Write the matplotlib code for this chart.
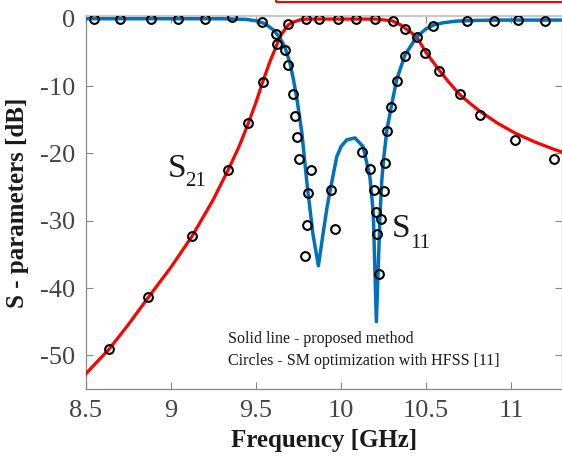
import matplotlib
matplotlib.use("Agg")
import matplotlib.pyplot as plt
from matplotlib.patches import Rectangle

# ---- data ----
s11_f = [8.50, 9.30, 9.44, 9.50, 9.55, 9.60, 9.64, 9.67, 9.70, 9.72, 9.74, 9.77, 9.80,
         9.835, 9.867, 9.894, 9.918, 9.94, 9.975, 10.00, 10.033, 10.082, 10.13, 10.17,
         10.19, 10.208, 10.23, 10.24, 10.25, 10.27, 10.30, 10.327, 10.376, 10.445, 10.50,
         10.543, 10.60, 10.68, 10.80, 10.92, 11.30]
s11_db = [0.0, 0.0, -0.1, -0.3, -0.7, -1.6, -2.8, -4.2, -6.6, -9.0, -11.8, -17.0, -24.5,
          -32.0, -36.7, -32.0, -28.0, -25.0, -20.5, -19.0, -18.0, -17.7, -19.0, -23.5,
          -28.9, -45.0, -28.9, -24.0, -21.0, -16.5, -12.5, -9.1, -5.4, -2.7, -1.5,
          -0.95, -0.6, -0.35, -0.25, -0.2, -0.2]

s21_f = [8.50, 8.635, 8.75, 8.866, 9.00, 9.124, 9.25, 9.337, 9.40, 9.455, 9.50, 9.539,
         9.58, 9.625, 9.65, 9.69, 9.72, 9.76, 9.80, 10.20, 10.30, 10.35, 10.376, 10.41,
         10.445, 10.50, 10.576, 10.64, 10.70, 10.76, 10.82, 10.92, 11.025, 11.14, 11.253, 11.30]
s21_db = [-52.7, -49.1, -45.4, -41.4, -36.9, -32.3, -26.8, -22.4, -19.0, -15.5, -12.4, -9.4,
          -6.5, -3.7, -2.3, -0.9, -0.5, -0.15, -0.05, -0.05, -0.3, -0.9, -1.4, -2.0,
          -2.7, -5.0, -7.6, -9.6, -11.3, -12.6, -13.8, -15.5, -17.0, -18.3, -19.4, -19.8]

s11_hfss_f = [8.549, 8.70, 8.88, 9.043, 9.198, 9.359, 9.533, 9.618, 9.669, 9.69, 9.72, 9.729,
              9.743, 9.751, 9.822, 9.804, 9.80, 9.788, 9.94, 9.965, 10.125, 10.17, 10.194,
              10.253, 10.204, 10.233, 10.21, 10.224, 10.259, 10.269, 10.294, 10.327, 10.376,
              10.445, 10.54, 10.74, 10.90, 11.04, 11.20]
s11_hfss_db = [0.0, 0.0, -0.1, -0.1, -0.1, 0.2, -0.54, -2.2, -4.6, -6.8, -11.2, -14.5,
               -17.6, -20.8, -22.5, -25.9, -30.7, -35.3, -25.5, -31.3, -19.85, -22.3, -25.5,
               -25.6, -28.7, -29.7, -32.0, -37.9, -21.5, -16.7, -13.1, -9.2, -5.6,
               -2.67, -1.08, -0.34, -0.34, -0.24, -0.34]

s21_hfss_f = [8.635, 8.866, 9.124, 9.337, 9.455, 9.539, 9.625, 9.69, 9.792, 9.872, 9.98,
              10.088, 10.198, 10.304, 10.376, 10.496, 10.576, 10.698, 10.82, 11.025, 11.253]
s21_hfss_db = [-49.1, -41.4, -32.3, -22.4, -15.5, -9.4, -3.8, -0.83, -0.1, -0.1, 0.0,
               -0.1, -0.1, -0.34, -1.53, -5.1, -7.8, -11.2, -14.3, -18.0, -20.8]

x_ticks = [8.5, 9, 9.5, 10, 10.5, 11]
x_tick_labels = ["8.5", "9", "9.5", "10", "10.5", "11"]
y_ticks = [0, -10, -20, -30, -40, -50]
y_tick_labels = ["0", "-10", "-20", "-30", "-40", "-50"]

FONT = "Liberation Serif"
W, H = 562, 457
fig = plt.figure(figsize=(W / 100, H / 100), dpi=100)
ax = fig.add_axes([86 / W, (H - 389) / H, (562 - 86) / W, (389 - 15.7) / H])

ax.plot(s21_f, s21_db, color="#ff0000", lw=2.3, zorder=3)
ax.plot(s11_f, s11_db, color="#0072bd", lw=2.5, zorder=3)
ax.plot(s11_hfss_f, s11_hfss_db, ls="none", marker="o", ms=6.3, mfc="none", mec="black", mew=1.5, zorder=4)
ax.plot(s21_hfss_f, s21_hfss_db, ls="none", marker="o", ms=6.3, mfc="none", mec="black", mew=1.5, zorder=4)

ax.set_xlim(8.5, 11.3)
ax.set_ylim(-55, 0.45)
ax.set_xticks(x_ticks)
ax.set_xticklabels(x_tick_labels)
ax.set_yticks(y_ticks)
ax.set_yticklabels(y_tick_labels)
ax.tick_params(direction="in", length=5, width=0.8, colors="#888888", labelcolor="#444444",
               top=True, right=True, labelsize=19, pad=8)
for lab in ax.get_xticklabels() + ax.get_yticklabels():
    lab.set_fontfamily(FONT)
for side in ["left", "bottom", "right"]:
    ax.spines[side].set_color("#888888")
    ax.spines[side].set_linewidth(0.9)
ax.spines["top"].set_color("#c8c8c8")
ax.spines["top"].set_linewidth(1.6)

ax.set_xlabel("Frequency [GHz]", fontfamily=FONT, fontweight="bold", fontsize=18, color="#1a1a1a", labelpad=5)
ax.set_ylabel("S - parameters [dB]", fontfamily=FONT, fontweight="bold", fontsize=18, color="#1a1a1a", labelpad=8)

ax.text(8.982, -23.5, "S", fontfamily=FONT, fontsize=24, color="#1a1a1a", va="baseline", ha="left")
ax.text(9.082, -24.9, "21", fontfamily=FONT, fontsize=15, color="#1a1a1a", va="baseline", ha="left")
ax.text(10.30, -32.4, "S", fontfamily=FONT, fontsize=24, color="#1a1a1a", va="baseline", ha="left")
ax.text(10.406, -34.1, "11", fontfamily=FONT, fontsize=15, color="#1a1a1a", va="baseline", ha="left")

ax.text(9.335, -48.2, "Solid line - proposed method", fontfamily=FONT, fontsize=11.5, color="#1a1a1a",
        va="baseline", ha="left")
ax.text(9.335, -51.5, "Circles - SM optimization with HFSS [11]", fontfamily=FONT, fontsize=11.5,
        color="#1a1a1a", va="baseline", ha="left")

fig.patches.append(Rectangle((276 / W, (H - 1.5) / H), 1.0, 0.1, transform=fig.transFigure,
                             fill=False, edgecolor="#ff0000", lw=1.5, clip_on=False))

fig.savefig("out.png", dpi=100)
